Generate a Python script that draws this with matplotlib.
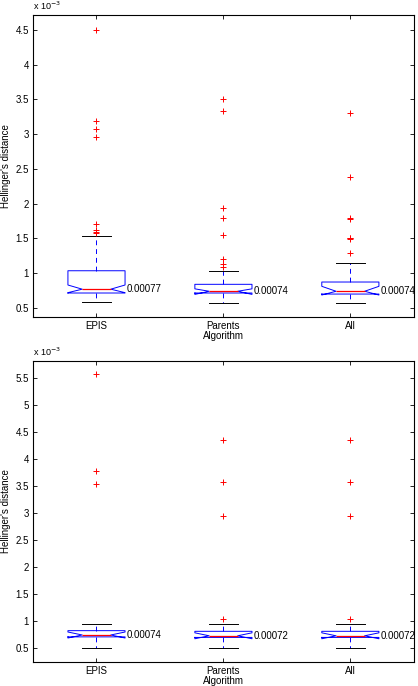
import numpy as np
import matplotlib.pyplot as plt

plt.rcParams['font.family'] = ['Liberation Sans', 'DejaVu Sans']

algorithms = ["EPIS", "Parents", "All"]

# values in units of 1e-3
top_med = [0.77, 0.74, 0.74]
top_q1 = [0.715, 0.715, 0.70]
top_q3 = [1.035, 0.840, 0.873]
top_cilo = [0.72, 0.695, 0.686]
top_cihi = [0.830, 0.775, 0.811]
top_whislo = [0.581, 0.571, 0.577]
top_whishi = [1.540, 1.037, 1.146]
top_fliers = [
    [4.50, 3.187, 3.077, 2.957, 1.712, 1.626, 1.597, 1.585],
    [3.503, 3.336, 1.937, 1.799, 1.549, 1.21, 1.138, 1.095],
    [3.307, 2.388, 1.80, 1.785, 1.51, 1.50, 1.49, 1.296],
]
top_labels = ["0.00077", "0.00074", "0.00074"]

bot_med = [0.735, 0.72, 0.72]
bot_q1 = [0.70, 0.69, 0.69]
bot_q3 = [0.815, 0.803, 0.803]
bot_cilo = [0.679, 0.665, 0.665]
bot_cihi = [0.79, 0.775, 0.775]
bot_whislo = [0.50, 0.495, 0.495]
bot_whishi = [0.944, 0.944, 0.944]
bot_fliers = [
    [5.56, 3.778, 3.537],
    [4.352, 3.562, 2.944, 1.037],
    [4.352, 3.562, 2.944, 1.037],
]
bot_labels = ["0.00074", "0.00072", "0.00072"]


def make_stats(med, q1, q3, cilo, cihi, lo, hi, fl):
    stats = []
    for i in range(len(med)):
        stats.append(dict(med=med[i], q1=q1[i], q3=q3[i], cilo=cilo[i],
                          cihi=cihi[i], whislo=lo[i], whishi=hi[i],
                          fliers=np.array(fl[i]), label=algorithms[i]))
    return stats


def draw_panel(ax, stats, labels, ylim, yticks):
    pos = [1, 2, 3]
    w = 0.45
    ax.bxp(stats, positions=pos, widths=w, shownotches=True,
           boxprops=dict(color='blue', linewidth=0.7),
           medianprops=dict(color='red', linewidth=0.9),
           whiskerprops=dict(color='blue', linewidth=0.7, linestyle=(0, (5, 4))),
           capprops=dict(color='black', linewidth=0.7),
           flierprops=dict(marker='+', color='red', markeredgecolor='red',
                           markerfacecolor='red', markersize=5,
                           markeredgewidth=0.7, linestyle='none'))
    for p, s, lab in zip(pos, stats, labels):
        ax.text(p + w / 2 + 0.01, s['med'], lab,
                fontsize=7, va='center', ha='left')
    ax.set_xlim(0.5, 3.5)
    ax.set_ylim(*ylim)
    ax.set_yticks(yticks)
    ax.set_yticklabels(["%g" % t for t in yticks])
    ax.set_xticks(pos)
    ax.set_xticklabels(algorithms)
    ax.tick_params(direction='in', length=3, width=0.6, labelsize=7,
                   top=True, right=True, pad=3)
    for sp in ax.spines.values():
        sp.set_linewidth(0.8)
    ax.set_ylabel("Hellinger's distance", fontsize=7, labelpad=3)
    ax.set_xlabel("Algorithm", fontsize=7, labelpad=0)
    ax.text(0.0, 1.01, r"x 10$^{-3}$", transform=ax.transAxes, fontsize=6.5,
            ha='left', va='bottom')


fig = plt.figure(figsize=(4.18, 6.86), dpi=100)
ax1 = fig.add_axes([0.079, 0.538, 0.911, 0.440])
ax2 = fig.add_axes([0.079, 0.0354, 0.911, 0.4388])

draw_panel(ax1, make_stats(top_med, top_q1, top_q3, top_cilo, top_cihi,
                           top_whislo, top_whishi, top_fliers),
           top_labels, (0.371, 4.711), np.arange(0.5, 4.51, 0.5))
draw_panel(ax2, make_stats(bot_med, bot_q1, bot_q3, bot_cilo, bot_cihi,
                           bot_whislo, bot_whishi, bot_fliers),
           bot_labels, (0.24, 5.814), np.arange(0.5, 5.51, 0.5))

fig.savefig("out.png", dpi=100)
